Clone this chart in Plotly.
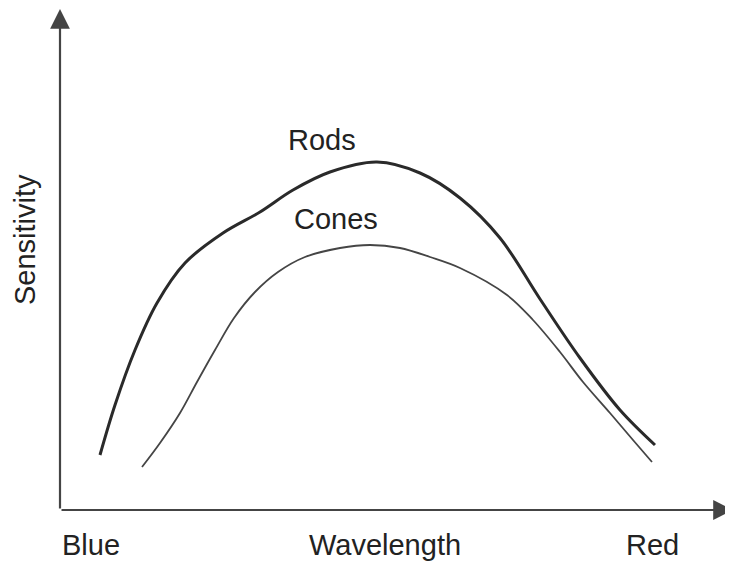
import plotly.graph_objects as go

# Wavelength positions (arbitrary units, origin at axes) and sensitivity values
rods_wavelength = [40, 55, 75, 97, 125, 163, 200, 233, 270, 317, 360, 400, 440, 480, 520, 560, 595]
rods_sensitivity = [55, 105, 160, 207, 247, 277, 298, 320, 338, 348, 337, 312, 272, 211, 152, 100, 65]

cones_wavelength = [82, 100, 120, 137, 155, 174, 195, 218, 245, 280, 310, 340, 370, 400,
                    447, 473, 500, 523, 550, 573, 592]
cones_sensitivity = [43, 67, 97, 128, 160, 192, 218, 238, 253, 262, 265, 262, 253, 242,
                     215, 190, 158, 128, 97, 70, 48]

x_labels = ["Blue", "Wavelength", "Red"]
x_label_pos = [31, 325, 592]
y_title = "Sensitivity"

FONT = "Liberation Sans, Arial, Helvetica, sans-serif"
TXT = "#222222"

fig = go.Figure()
fig.add_trace(go.Scatter(x=rods_wavelength, y=rods_sensitivity, mode="lines",
                         line=dict(color="#2a2a2a", width=3, shape="spline", smoothing=1.0),
                         name="Rods", hoverinfo="skip"))
fig.add_trace(go.Scatter(x=cones_wavelength, y=cones_sensitivity, mode="lines",
                         line=dict(color="#454545", width=1.8, shape="spline", smoothing=1.0),
                         name="Cones", hoverinfo="skip"))

annotations = []
# axes with arrows
annotations.append(dict(x=0, y=501, ax=0, ay=0, xref="x", yref="y", axref="x", ayref="y",
                        showarrow=True, arrowhead=2, arrowsize=1.8, arrowwidth=2.2,
                        arrowcolor="#444444", text=""))
annotations.append(dict(x=673, y=0, ax=0, ay=0, xref="x", yref="y", axref="x", ayref="y",
                        showarrow=True, arrowhead=2, arrowsize=1.8, arrowwidth=2.2,
                        arrowcolor="#444444", text=""))
for lab, pos in zip(x_labels, x_label_pos):
    annotations.append(dict(x=pos, y=-35, xref="x", yref="y", text=lab, showarrow=False,
                            font=dict(family=FONT, size=29, color=TXT),
                            xanchor="center", yanchor="middle"))
annotations.append(dict(x=-35, y=270, xref="x", yref="y", text=y_title, showarrow=False,
                        textangle=-90, font=dict(family=FONT, size=29, color=TXT),
                        xanchor="center", yanchor="middle"))
annotations.append(dict(x=262, y=370, xref="x", yref="y", text="Rods", showarrow=False,
                        font=dict(family=FONT, size=29, color=TXT),
                        xanchor="center", yanchor="middle"))
annotations.append(dict(x=276, y=291, xref="x", yref="y", text="Cones", showarrow=False,
                        font=dict(family=FONT, size=29, color=TXT),
                        xanchor="center", yanchor="middle"))

# page body has an 8px margin, so the figure is 8px smaller and ranges shifted accordingly
fig.update_layout(
    width=725, height=558,
    margin=dict(l=0, r=0, t=0, b=0),
    paper_bgcolor="white", plot_bgcolor="white",
    showlegend=False,
    xaxis=dict(range=[-52, 673], visible=False, fixedrange=True),
    yaxis=dict(range=[-56, 502], visible=False, fixedrange=True),
    annotations=annotations,
)

fig.write_html("out.html")
